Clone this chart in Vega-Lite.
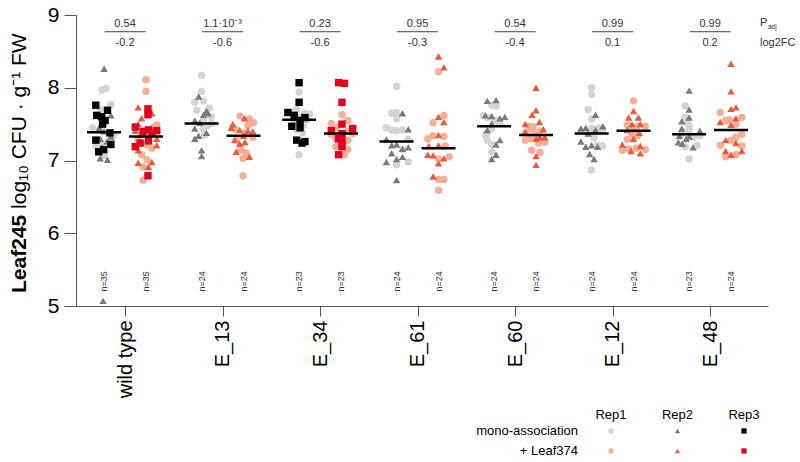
{
  "$schema": "https://vega.github.io/schema/vega-lite/v6.json",
  "width": 692,
  "height": 291,
  "autosize": {"type": "none"},
  "padding": {"left": 76, "top": 15, "right": 32, "bottom": 156},
  "background": "white",
  "config": {"view": {"stroke": null}, "font": "Liberation Sans", "text": {"font": "Liberation Sans"}},
  "resolve": {"axis": {"x": "independent", "y": "independent"}},
  "datasets": {
    "pts": [
      {"g":"wild type","c":"mono","r":"Rep1","v":7.97,"j":-0.02},{"g":"wild type","c":"mono","r":"Rep1","v":7.99,"j":0.02},{"g":"wild type","c":"mono","r":"Rep1","v":7.77,"j":0.07},{"g":"wild type","c":"mono","r":"Rep1","v":7.70,"j":-0.04},{"g":"wild type","c":"mono","r":"Rep1","v":7.45,"j":-0.12},{"g":"wild type","c":"mono","r":"Rep1","v":7.42,"j":-0.04},{"g":"wild type","c":"mono","r":"Rep1","v":7.35,"j":0.1},{"g":"wild type","c":"mono","r":"Rep1","v":7.30,"j":0.07},{"g":"wild type","c":"mono","r":"Rep1","v":7.25,"j":-0.04},{"g":"wild type","c":"mono","r":"Rep1","v":7.20,"j":-0.08},{"g":"wild type","c":"mono","r":"Rep1","v":7.12,"j":0.01},{"g":"wild type","c":"mono","r":"Rep1","v":7.07,"j":0},
      {"g":"wild type","c":"mono","r":"Rep2","v":8.26,"j":0},{"g":"wild type","c":"mono","r":"Rep2","v":7.62,"j":0.07},{"g":"wild type","c":"mono","r":"Rep2","v":7.45,"j":-0.05},{"g":"wild type","c":"mono","r":"Rep2","v":7.40,"j":0},{"g":"wild type","c":"mono","r":"Rep2","v":7.33,"j":0.07},{"g":"wild type","c":"mono","r":"Rep2","v":7.30,"j":-0.04},{"g":"wild type","c":"mono","r":"Rep2","v":7.26,"j":0.03},{"g":"wild type","c":"mono","r":"Rep2","v":7.22,"j":0.055},{"g":"wild type","c":"mono","r":"Rep2","v":7.18,"j":-0.02},{"g":"wild type","c":"mono","r":"Rep2","v":7.03,"j":-0.04},{"g":"wild type","c":"mono","r":"Rep2","v":7.01,"j":0.035},{"g":"wild type","c":"mono","r":"Rep2","v":5.07,"j":-0.01},
      {"g":"wild type","c":"mono","r":"Rep3","v":7.76,"j":-0.085},{"g":"wild type","c":"mono","r":"Rep3","v":7.69,"j":0.035},{"g":"wild type","c":"mono","r":"Rep3","v":7.62,"j":-0.075},{"g":"wild type","c":"mono","r":"Rep3","v":7.60,"j":-0.025},{"g":"wild type","c":"mono","r":"Rep3","v":7.55,"j":0.01},{"g":"wild type","c":"mono","r":"Rep3","v":7.50,"j":-0.015},{"g":"wild type","c":"mono","r":"Rep3","v":7.38,"j":0.06},{"g":"wild type","c":"mono","r":"Rep3","v":7.28,"j":-0.085},{"g":"wild type","c":"mono","r":"Rep3","v":7.22,"j":0.07},{"g":"wild type","c":"mono","r":"Rep3","v":7.15,"j":-0.005},{"g":"wild type","c":"mono","r":"Rep3","v":7.12,"j":-0.055},
      {"g":"wild type","c":"leaf","r":"Rep1","v":8.11,"j":0},{"g":"wild type","c":"leaf","r":"Rep1","v":7.95,"j":0},{"g":"wild type","c":"leaf","r":"Rep1","v":7.49,"j":0.11},{"g":"wild type","c":"leaf","r":"Rep1","v":7.45,"j":0.07},{"g":"wild type","c":"leaf","r":"Rep1","v":7.36,"j":-0.045},{"g":"wild type","c":"leaf","r":"Rep1","v":7.29,"j":-0.08},{"g":"wild type","c":"leaf","r":"Rep1","v":7.22,"j":0.01},{"g":"wild type","c":"leaf","r":"Rep1","v":7.17,"j":0.06},{"g":"wild type","c":"leaf","r":"Rep1","v":7.08,"j":-0.045},{"g":"wild type","c":"leaf","r":"Rep1","v":7.01,"j":0.01},{"g":"wild type","c":"leaf","r":"Rep1","v":6.91,"j":-0.03},{"g":"wild type","c":"leaf","r":"Rep1","v":6.73,"j":-0.03},
      {"g":"wild type","c":"leaf","r":"Rep2","v":7.73,"j":-0.08},{"g":"wild type","c":"leaf","r":"Rep2","v":7.65,"j":0.06},{"g":"wild type","c":"leaf","r":"Rep2","v":7.58,"j":-0.045},{"g":"wild type","c":"leaf","r":"Rep2","v":7.50,"j":-0.08},{"g":"wild type","c":"leaf","r":"Rep2","v":7.41,"j":-0.11},{"g":"wild type","c":"leaf","r":"Rep2","v":7.38,"j":0.06},{"g":"wild type","c":"leaf","r":"Rep2","v":7.30,"j":0.11},{"g":"wild type","c":"leaf","r":"Rep2","v":7.21,"j":0.11},{"g":"wild type","c":"leaf","r":"Rep2","v":7.14,"j":-0.08},{"g":"wild type","c":"leaf","r":"Rep2","v":6.98,"j":0.06},{"g":"wild type","c":"leaf","r":"Rep2","v":6.97,"j":-0.08},{"g":"wild type","c":"leaf","r":"Rep2","v":6.91,"j":0.025},
      {"g":"wild type","c":"leaf","r":"Rep3","v":7.71,"j":0.02},{"g":"wild type","c":"leaf","r":"Rep3","v":7.63,"j":0.02},{"g":"wild type","c":"leaf","r":"Rep3","v":7.46,"j":-0.11},{"g":"wild type","c":"leaf","r":"Rep3","v":7.42,"j":0.025},{"g":"wild type","c":"leaf","r":"Rep3","v":7.41,"j":0.11},{"g":"wild type","c":"leaf","r":"Rep3","v":7.40,"j":-0.03},{"g":"wild type","c":"leaf","r":"Rep3","v":7.38,"j":0.06},{"g":"wild type","c":"leaf","r":"Rep3","v":7.27,"j":0.025},{"g":"wild type","c":"leaf","r":"Rep3","v":7.24,"j":-0.06},{"g":"wild type","c":"leaf","r":"Rep3","v":7.19,"j":-0.11},{"g":"wild type","c":"leaf","r":"Rep3","v":6.79,"j":0.02},
      {"g":"E_13","c":"mono","r":"Rep1","v":8.17,"j":0},{"g":"E_13","c":"mono","r":"Rep1","v":7.95,"j":0},{"g":"E_13","c":"mono","r":"Rep1","v":7.82,"j":0.02},{"g":"E_13","c":"mono","r":"Rep1","v":7.80,"j":-0.07},{"g":"E_13","c":"mono","r":"Rep1","v":7.72,"j":0.08},{"g":"E_13","c":"mono","r":"Rep1","v":7.69,"j":-0.05},{"g":"E_13","c":"mono","r":"Rep1","v":7.60,"j":0.1},{"g":"E_13","c":"mono","r":"Rep1","v":7.55,"j":0.02},{"g":"E_13","c":"mono","r":"Rep1","v":7.51,"j":0.1},{"g":"E_13","c":"mono","r":"Rep1","v":7.48,"j":0.065},{"g":"E_13","c":"mono","r":"Rep1","v":7.43,"j":0.015},{"g":"E_13","c":"mono","r":"Rep1","v":7.35,"j":0.03},
      {"g":"E_13","c":"mono","r":"Rep2","v":7.88,"j":-0.03},{"g":"E_13","c":"mono","r":"Rep2","v":7.68,"j":0.05},{"g":"E_13","c":"mono","r":"Rep2","v":7.65,"j":0.065},{"g":"E_13","c":"mono","r":"Rep2","v":7.63,"j":0.02},{"g":"E_13","c":"mono","r":"Rep2","v":7.55,"j":-0.07},{"g":"E_13","c":"mono","r":"Rep2","v":7.52,"j":-0.02},{"g":"E_13","c":"mono","r":"Rep2","v":7.44,"j":-0.07},{"g":"E_13","c":"mono","r":"Rep2","v":7.38,"j":0.05},{"g":"E_13","c":"mono","r":"Rep2","v":7.34,"j":-0.03},{"g":"E_13","c":"mono","r":"Rep2","v":7.30,"j":-0.07},{"g":"E_13","c":"mono","r":"Rep2","v":7.14,"j":0},{"g":"E_13","c":"mono","r":"Rep2","v":7.06,"j":0},
      {"g":"E_13","c":"leaf","r":"Rep1","v":7.61,"j":-0.035},{"g":"E_13","c":"leaf","r":"Rep1","v":7.57,"j":0.06},{"g":"E_13","c":"leaf","r":"Rep1","v":7.52,"j":0.1},{"g":"E_13","c":"leaf","r":"Rep1","v":7.48,"j":0.045},{"g":"E_13","c":"leaf","r":"Rep1","v":7.43,"j":-0.09},{"g":"E_13","c":"leaf","r":"Rep1","v":7.38,"j":0.01},{"g":"E_13","c":"leaf","r":"Rep1","v":7.32,"j":0.095},{"g":"E_13","c":"leaf","r":"Rep1","v":7.28,"j":-0.075},{"g":"E_13","c":"leaf","r":"Rep1","v":7.14,"j":-0.025},{"g":"E_13","c":"leaf","r":"Rep1","v":7.10,"j":0.03},{"g":"E_13","c":"leaf","r":"Rep1","v":7.03,"j":-0.005},{"g":"E_13","c":"leaf","r":"Rep1","v":6.79,"j":-0.005},
      {"g":"E_13","c":"leaf","r":"Rep2","v":7.58,"j":0.01},{"g":"E_13","c":"leaf","r":"Rep2","v":7.50,"j":-0.11},{"g":"E_13","c":"leaf","r":"Rep2","v":7.45,"j":-0.125},{"g":"E_13","c":"leaf","r":"Rep2","v":7.42,"j":-0.04},{"g":"E_13","c":"leaf","r":"Rep2","v":7.41,"j":0.045},{"g":"E_13","c":"leaf","r":"Rep2","v":7.40,"j":0.095},{"g":"E_13","c":"leaf","r":"Rep2","v":7.34,"j":0},{"g":"E_13","c":"leaf","r":"Rep2","v":7.28,"j":-0.09},{"g":"E_13","c":"leaf","r":"Rep2","v":7.25,"j":0.015},{"g":"E_13","c":"leaf","r":"Rep2","v":7.23,"j":-0.04},{"g":"E_13","c":"leaf","r":"Rep2","v":7.12,"j":-0.075},{"g":"E_13","c":"leaf","r":"Rep2","v":7.05,"j":0.06},
      {"g":"E_34","c":"mono","r":"Rep1","v":7.94,"j":0},{"g":"E_34","c":"mono","r":"Rep1","v":7.70,"j":-0.025},{"g":"E_34","c":"mono","r":"Rep1","v":7.66,"j":-0.075},{"g":"E_34","c":"mono","r":"Rep1","v":7.65,"j":0.055},{"g":"E_34","c":"mono","r":"Rep1","v":7.64,"j":0.11},{"g":"E_34","c":"mono","r":"Rep1","v":7.60,"j":-0.005},{"g":"E_34","c":"mono","r":"Rep1","v":7.56,"j":0.08},{"g":"E_34","c":"mono","r":"Rep1","v":7.52,"j":-0.05},{"g":"E_34","c":"mono","r":"Rep1","v":7.48,"j":0.045},{"g":"E_34","c":"mono","r":"Rep1","v":7.42,"j":-0.025},{"g":"E_34","c":"mono","r":"Rep1","v":7.38,"j":0.035},{"g":"E_34","c":"mono","r":"Rep1","v":7.08,"j":0},
      {"g":"E_34","c":"mono","r":"Rep3","v":8.07,"j":0},{"g":"E_34","c":"mono","r":"Rep3","v":7.80,"j":0},{"g":"E_34","c":"mono","r":"Rep3","v":7.66,"j":-0.115},{"g":"E_34","c":"mono","r":"Rep3","v":7.62,"j":-0.05},{"g":"E_34","c":"mono","r":"Rep3","v":7.59,"j":0.06},{"g":"E_34","c":"mono","r":"Rep3","v":7.55,"j":0.01},{"g":"E_34","c":"mono","r":"Rep3","v":7.47,"j":-0.075},{"g":"E_34","c":"mono","r":"Rep3","v":7.45,"j":0.01},{"g":"E_34","c":"mono","r":"Rep3","v":7.28,"j":-0.025},{"g":"E_34","c":"mono","r":"Rep3","v":7.26,"j":0.06},{"g":"E_34","c":"mono","r":"Rep3","v":7.24,"j":0.03},
      {"g":"E_34","c":"leaf","r":"Rep1","v":7.63,"j":0.01},{"g":"E_34","c":"leaf","r":"Rep1","v":7.55,"j":0.07},{"g":"E_34","c":"leaf","r":"Rep1","v":7.51,"j":-0.1},{"g":"E_34","c":"leaf","r":"Rep1","v":7.46,"j":-0.05},{"g":"E_34","c":"leaf","r":"Rep1","v":7.40,"j":0.07},{"g":"E_34","c":"leaf","r":"Rep1","v":7.37,"j":0.12},{"g":"E_34","c":"leaf","r":"Rep1","v":7.36,"j":-0.1},{"g":"E_34","c":"leaf","r":"Rep1","v":7.29,"j":-0.05},{"g":"E_34","c":"leaf","r":"Rep1","v":7.28,"j":0.07},{"g":"E_34","c":"leaf","r":"Rep1","v":7.19,"j":-0.05},{"g":"E_34","c":"leaf","r":"Rep1","v":7.15,"j":0.07},{"g":"E_34","c":"leaf","r":"Rep1","v":7.08,"j":0.035},
      {"g":"E_34","c":"leaf","r":"Rep3","v":8.07,"j":-0.025},{"g":"E_34","c":"leaf","r":"Rep3","v":8.06,"j":0.035},{"g":"E_34","c":"leaf","r":"Rep3","v":7.80,"j":0.01},{"g":"E_34","c":"leaf","r":"Rep3","v":7.50,"j":0.01},{"g":"E_34","c":"leaf","r":"Rep3","v":7.44,"j":0.12},{"g":"E_34","c":"leaf","r":"Rep3","v":7.41,"j":-0.1},{"g":"E_34","c":"leaf","r":"Rep3","v":7.37,"j":0.01},{"g":"E_34","c":"leaf","r":"Rep3","v":7.30,"j":-0.025},{"g":"E_34","c":"leaf","r":"Rep3","v":7.27,"j":0.01},{"g":"E_34","c":"leaf","r":"Rep3","v":7.19,"j":0.01},{"g":"E_34","c":"leaf","r":"Rep3","v":7.08,"j":-0.025},
      {"g":"E_61","c":"mono","r":"Rep1","v":8.02,"j":0},{"g":"E_61","c":"mono","r":"Rep1","v":7.66,"j":0},{"g":"E_61","c":"mono","r":"Rep1","v":7.65,"j":-0.05},{"g":"E_61","c":"mono","r":"Rep1","v":7.57,"j":0},{"g":"E_61","c":"mono","r":"Rep1","v":7.45,"j":-0.105},{"g":"E_61","c":"mono","r":"Rep1","v":7.42,"j":-0.05},{"g":"E_61","c":"mono","r":"Rep1","v":7.41,"j":0.0},{"g":"E_61","c":"mono","r":"Rep1","v":7.42,"j":0.06},{"g":"E_61","c":"mono","r":"Rep1","v":7.29,"j":0.12},{"g":"E_61","c":"mono","r":"Rep1","v":7.15,"j":0.065},{"g":"E_61","c":"mono","r":"Rep1","v":6.98,"j":0.12},{"g":"E_61","c":"mono","r":"Rep1","v":6.94,"j":0},
      {"g":"E_61","c":"mono","r":"Rep2","v":7.65,"j":0.06},{"g":"E_61","c":"mono","r":"Rep2","v":7.43,"j":0.12},{"g":"E_61","c":"mono","r":"Rep2","v":7.29,"j":-0.105},{"g":"E_61","c":"mono","r":"Rep2","v":7.22,"j":0},{"g":"E_61","c":"mono","r":"Rep2","v":7.21,"j":-0.05},{"g":"E_61","c":"mono","r":"Rep2","v":7.18,"j":0.12},{"g":"E_61","c":"mono","r":"Rep2","v":7.16,"j":0.06},{"g":"E_61","c":"mono","r":"Rep2","v":7.10,"j":-0.05},{"g":"E_61","c":"mono","r":"Rep2","v":7.05,"j":0.06},{"g":"E_61","c":"mono","r":"Rep2","v":7.02,"j":0},{"g":"E_61","c":"mono","r":"Rep2","v":6.98,"j":-0.105},{"g":"E_61","c":"mono","r":"Rep2","v":6.73,"j":0},
      {"g":"E_61","c":"leaf","r":"Rep1","v":8.22,"j":0},{"g":"E_61","c":"leaf","r":"Rep1","v":7.62,"j":0.055},{"g":"E_61","c":"leaf","r":"Rep1","v":7.52,"j":-0.055},{"g":"E_61","c":"leaf","r":"Rep1","v":7.34,"j":-0.055},{"g":"E_61","c":"leaf","r":"Rep1","v":7.33,"j":0.055},{"g":"E_61","c":"leaf","r":"Rep1","v":7.30,"j":-0.11},{"g":"E_61","c":"leaf","r":"Rep1","v":7.20,"j":0.07},{"g":"E_61","c":"leaf","r":"Rep1","v":7.05,"j":0.11},{"g":"E_61","c":"leaf","r":"Rep1","v":7.02,"j":0},{"g":"E_61","c":"leaf","r":"Rep1","v":6.74,"j":0.055},{"g":"E_61","c":"leaf","r":"Rep1","v":6.74,"j":0},{"g":"E_61","c":"leaf","r":"Rep1","v":6.59,"j":0},
      {"g":"E_61","c":"leaf","r":"Rep2","v":8.43,"j":0},{"g":"E_61","c":"leaf","r":"Rep2","v":8.28,"j":0.055},{"g":"E_61","c":"leaf","r":"Rep2","v":7.60,"j":0},{"g":"E_61","c":"leaf","r":"Rep2","v":7.53,"j":0.055},{"g":"E_61","c":"leaf","r":"Rep2","v":7.35,"j":0},{"g":"E_61","c":"leaf","r":"Rep2","v":7.21,"j":0},{"g":"E_61","c":"leaf","r":"Rep2","v":7.20,"j":-0.1},{"g":"E_61","c":"leaf","r":"Rep2","v":7.08,"j":-0.11},{"g":"E_61","c":"leaf","r":"Rep2","v":7.07,"j":-0.055},{"g":"E_61","c":"leaf","r":"Rep2","v":7.03,"j":0.055},{"g":"E_61","c":"leaf","r":"Rep2","v":6.96,"j":0},{"g":"E_61","c":"leaf","r":"Rep2","v":6.78,"j":-0.055},
      {"g":"E_60","c":"mono","r":"Rep1","v":7.76,"j":-0.025},{"g":"E_60","c":"mono","r":"Rep1","v":7.75,"j":0.02},{"g":"E_60","c":"mono","r":"Rep1","v":7.62,"j":-0.11},{"g":"E_60","c":"mono","r":"Rep1","v":7.59,"j":-0.07},{"g":"E_60","c":"mono","r":"Rep1","v":7.55,"j":0.02},{"g":"E_60","c":"mono","r":"Rep1","v":7.51,"j":0.06},{"g":"E_60","c":"mono","r":"Rep1","v":7.44,"j":-0.025},{"g":"E_60","c":"mono","r":"Rep1","v":7.38,"j":-0.07},{"g":"E_60","c":"mono","r":"Rep1","v":7.35,"j":-0.09},{"g":"E_60","c":"mono","r":"Rep1","v":7.28,"j":-0.07},{"g":"E_60","c":"mono","r":"Rep1","v":7.22,"j":-0.025},{"g":"E_60","c":"mono","r":"Rep1","v":7.12,"j":-0.025},
      {"g":"E_60","c":"mono","r":"Rep2","v":7.83,"j":0.02},{"g":"E_60","c":"mono","r":"Rep2","v":7.82,"j":-0.07},{"g":"E_60","c":"mono","r":"Rep2","v":7.62,"j":-0.09},{"g":"E_60","c":"mono","r":"Rep2","v":7.61,"j":-0.025},{"g":"E_60","c":"mono","r":"Rep2","v":7.60,"j":0.11},{"g":"E_60","c":"mono","r":"Rep2","v":7.58,"j":0.06},{"g":"E_60","c":"mono","r":"Rep2","v":7.51,"j":-0.025},{"g":"E_60","c":"mono","r":"Rep2","v":7.42,"j":-0.07},{"g":"E_60","c":"mono","r":"Rep2","v":7.28,"j":0.06},{"g":"E_60","c":"mono","r":"Rep2","v":7.22,"j":0.02},{"g":"E_60","c":"mono","r":"Rep2","v":7.08,"j":0.02},{"g":"E_60","c":"mono","r":"Rep2","v":7.02,"j":-0.025},
      {"g":"E_60","c":"leaf","r":"Rep1","v":7.47,"j":-0.08},{"g":"E_60","c":"leaf","r":"Rep1","v":7.46,"j":-0.03},{"g":"E_60","c":"leaf","r":"Rep1","v":7.43,"j":-0.045},{"g":"E_60","c":"leaf","r":"Rep1","v":7.40,"j":0.04},{"g":"E_60","c":"leaf","r":"Rep1","v":7.38,"j":-0.11},{"g":"E_60","c":"leaf","r":"Rep1","v":7.35,"j":0},{"g":"E_60","c":"leaf","r":"Rep1","v":7.30,"j":-0.06},{"g":"E_60","c":"leaf","r":"Rep1","v":7.28,"j":-0.11},{"g":"E_60","c":"leaf","r":"Rep1","v":7.25,"j":0.09},{"g":"E_60","c":"leaf","r":"Rep1","v":7.24,"j":0.025},{"g":"E_60","c":"leaf","r":"Rep1","v":7.14,"j":-0.045},{"g":"E_60","c":"leaf","r":"Rep1","v":7.11,"j":0.04},
      {"g":"E_60","c":"leaf","r":"Rep2","v":8.00,"j":0},{"g":"E_60","c":"leaf","r":"Rep2","v":7.69,"j":0},{"g":"E_60","c":"leaf","r":"Rep2","v":7.63,"j":-0.04},{"g":"E_60","c":"leaf","r":"Rep2","v":7.53,"j":0.035},{"g":"E_60","c":"leaf","r":"Rep2","v":7.50,"j":-0.11},{"g":"E_60","c":"leaf","r":"Rep2","v":7.43,"j":0.075},{"g":"E_60","c":"leaf","r":"Rep2","v":7.39,"j":-0.11},{"g":"E_60","c":"leaf","r":"Rep2","v":7.32,"j":0.04},{"g":"E_60","c":"leaf","r":"Rep2","v":7.32,"j":0.09},{"g":"E_60","c":"leaf","r":"Rep2","v":7.30,"j":0.0},{"g":"E_60","c":"leaf","r":"Rep2","v":7.06,"j":0},{"g":"E_60","c":"leaf","r":"Rep2","v":6.94,"j":0},
      {"g":"E_12","c":"mono","r":"Rep1","v":8.00,"j":0},{"g":"E_12","c":"mono","r":"Rep1","v":7.91,"j":0},{"g":"E_12","c":"mono","r":"Rep1","v":7.70,"j":-0.035},{"g":"E_12","c":"mono","r":"Rep1","v":7.57,"j":0},{"g":"E_12","c":"mono","r":"Rep1","v":7.45,"j":0.075},{"g":"E_12","c":"mono","r":"Rep1","v":7.44,"j":0},{"g":"E_12","c":"mono","r":"Rep1","v":7.42,"j":0.11},{"g":"E_12","c":"mono","r":"Rep1","v":7.37,"j":-0.035},{"g":"E_12","c":"mono","r":"Rep1","v":7.31,"j":0.025},{"g":"E_12","c":"mono","r":"Rep1","v":7.21,"j":0.06},{"g":"E_12","c":"mono","r":"Rep1","v":7.20,"j":0.11},{"g":"E_12","c":"mono","r":"Rep1","v":6.87,"j":0},
      {"g":"E_12","c":"mono","r":"Rep2","v":7.63,"j":0.04},{"g":"E_12","c":"mono","r":"Rep2","v":7.47,"j":0.115},{"g":"E_12","c":"mono","r":"Rep2","v":7.45,"j":-0.06},{"g":"E_12","c":"mono","r":"Rep2","v":7.44,"j":-0.11},{"g":"E_12","c":"mono","r":"Rep2","v":7.42,"j":0.04},{"g":"E_12","c":"mono","r":"Rep2","v":7.37,"j":-0.035},{"g":"E_12","c":"mono","r":"Rep2","v":7.26,"j":-0.11},{"g":"E_12","c":"mono","r":"Rep2","v":7.21,"j":0},{"g":"E_12","c":"mono","r":"Rep2","v":7.19,"j":-0.06},{"g":"E_12","c":"mono","r":"Rep2","v":7.19,"j":0.06},{"g":"E_12","c":"mono","r":"Rep2","v":7.09,"j":-0.02},{"g":"E_12","c":"mono","r":"Rep2","v":7.02,"j":0.025},
      {"g":"E_12","c":"leaf","r":"Rep1","v":7.82,"j":0},{"g":"E_12","c":"leaf","r":"Rep1","v":7.49,"j":-0.065},{"g":"E_12","c":"leaf","r":"Rep1","v":7.47,"j":0.12},{"g":"E_12","c":"leaf","r":"Rep1","v":7.45,"j":-0.015},{"g":"E_12","c":"leaf","r":"Rep1","v":7.47,"j":0.04},{"g":"E_12","c":"leaf","r":"Rep1","v":7.36,"j":-0.015},{"g":"E_12","c":"leaf","r":"Rep1","v":7.34,"j":0.04},{"g":"E_12","c":"leaf","r":"Rep1","v":7.29,"j":-0.065},{"g":"E_12","c":"leaf","r":"Rep1","v":7.17,"j":0.03},{"g":"E_12","c":"leaf","r":"Rep1","v":7.16,"j":-0.05},{"g":"E_12","c":"leaf","r":"Rep1","v":7.15,"j":0.12},{"g":"E_12","c":"leaf","r":"Rep1","v":7.14,"j":-0.115},
      {"g":"E_12","c":"leaf","r":"Rep2","v":7.68,"j":0},{"g":"E_12","c":"leaf","r":"Rep2","v":7.59,"j":-0.05},{"g":"E_12","c":"leaf","r":"Rep2","v":7.59,"j":0.05},{"g":"E_12","c":"leaf","r":"Rep2","v":7.50,"j":-0.015},{"g":"E_12","c":"leaf","r":"Rep2","v":7.50,"j":0.07},{"g":"E_12","c":"leaf","r":"Rep2","v":7.42,"j":-0.065},{"g":"E_12","c":"leaf","r":"Rep2","v":7.38,"j":0.06},{"g":"E_12","c":"leaf","r":"Rep2","v":7.30,"j":0},{"g":"E_12","c":"leaf","r":"Rep2","v":7.22,"j":-0.115},{"g":"E_12","c":"leaf","r":"Rep2","v":7.20,"j":0.07},{"g":"E_12","c":"leaf","r":"Rep2","v":7.13,"j":-0.025},{"g":"E_12","c":"leaf","r":"Rep2","v":7.10,"j":0.07},
      {"g":"E_48","c":"mono","r":"Rep1","v":7.75,"j":-0.04},{"g":"E_48","c":"mono","r":"Rep1","v":7.60,"j":-0.04},{"g":"E_48","c":"mono","r":"Rep1","v":7.52,"j":-0.025},{"g":"E_48","c":"mono","r":"Rep1","v":7.48,"j":0},{"g":"E_48","c":"mono","r":"Rep1","v":7.42,"j":0.0},{"g":"E_48","c":"mono","r":"Rep1","v":7.37,"j":-0.075},{"g":"E_48","c":"mono","r":"Rep1","v":7.34,"j":0.11},{"g":"E_48","c":"mono","r":"Rep1","v":7.32,"j":0.045},{"g":"E_48","c":"mono","r":"Rep1","v":7.21,"j":0.08},{"g":"E_48","c":"mono","r":"Rep1","v":7.19,"j":-0.04},{"g":"E_48","c":"mono","r":"Rep1","v":7.02,"j":0},
      {"g":"E_48","c":"mono","r":"Rep2","v":7.96,"j":0},{"g":"E_48","c":"mono","r":"Rep2","v":7.70,"j":0},{"g":"E_48","c":"mono","r":"Rep2","v":7.59,"j":0},{"g":"E_48","c":"mono","r":"Rep2","v":7.54,"j":-0.075},{"g":"E_48","c":"mono","r":"Rep2","v":7.44,"j":-0.075},{"g":"E_48","c":"mono","r":"Rep2","v":7.41,"j":0.11},{"g":"E_48","c":"mono","r":"Rep2","v":7.34,"j":-0.1},{"g":"E_48","c":"mono","r":"Rep2","v":7.33,"j":0},{"g":"E_48","c":"mono","r":"Rep2","v":7.30,"j":-0.03},{"g":"E_48","c":"mono","r":"Rep2","v":7.25,"j":-0.11},{"g":"E_48","c":"mono","r":"Rep2","v":7.23,"j":-0.07},{"g":"E_48","c":"mono","r":"Rep2","v":7.18,"j":0.04},
      {"g":"E_48","c":"leaf","r":"Rep1","v":7.66,"j":-0.11},{"g":"E_48","c":"leaf","r":"Rep1","v":7.59,"j":0.11},{"g":"E_48","c":"leaf","r":"Rep1","v":7.56,"j":-0.02},{"g":"E_48","c":"leaf","r":"Rep1","v":7.55,"j":-0.055},{"g":"E_48","c":"leaf","r":"Rep1","v":7.50,"j":0.05},{"g":"E_48","c":"leaf","r":"Rep1","v":7.36,"j":0.11},{"g":"E_48","c":"leaf","r":"Rep1","v":7.32,"j":0.05},{"g":"E_48","c":"leaf","r":"Rep1","v":7.28,"j":0},{"g":"E_48","c":"leaf","r":"Rep1","v":7.21,"j":-0.11},{"g":"E_48","c":"leaf","r":"Rep1","v":7.20,"j":0.11},{"g":"E_48","c":"leaf","r":"Rep1","v":7.08,"j":0.05},{"g":"E_48","c":"leaf","r":"Rep1","v":7.05,"j":-0.055},
      {"g":"E_48","c":"leaf","r":"Rep2","v":8.33,"j":0},{"g":"E_48","c":"leaf","r":"Rep2","v":7.95,"j":0},{"g":"E_48","c":"leaf","r":"Rep2","v":7.73,"j":0.05},{"g":"E_48","c":"leaf","r":"Rep2","v":7.71,"j":0},{"g":"E_48","c":"leaf","r":"Rep2","v":7.58,"j":0.05},{"g":"E_48","c":"leaf","r":"Rep2","v":7.53,"j":-0.11},{"g":"E_48","c":"leaf","r":"Rep2","v":7.49,"j":0},{"g":"E_48","c":"leaf","r":"Rep2","v":7.28,"j":-0.055},{"g":"E_48","c":"leaf","r":"Rep2","v":7.24,"j":0.05},{"g":"E_48","c":"leaf","r":"Rep2","v":7.13,"j":-0.055},{"g":"E_48","c":"leaf","r":"Rep2","v":7.13,"j":0.11},{"g":"E_48","c":"leaf","r":"Rep2","v":7.08,"j":0}
    ],
    "means": [
      {"g":"wild type","c":"mono","m":7.39},{"g":"wild type","c":"leaf","m":7.33},
      {"g":"E_13","c":"mono","m":7.51},{"g":"E_13","c":"leaf","m":7.34},
      {"g":"E_34","c":"mono","m":7.56},{"g":"E_34","c":"leaf","m":7.37},
      {"g":"E_61","c":"mono","m":7.26},{"g":"E_61","c":"leaf","m":7.17},
      {"g":"E_60","c":"mono","m":7.47},{"g":"E_60","c":"leaf","m":7.35},
      {"g":"E_12","c":"mono","m":7.37},{"g":"E_12","c":"leaf","m":7.41},
      {"g":"E_48","c":"mono","m":7.36},{"g":"E_48","c":"leaf","m":7.42}
    ],
    "ann": [
      {"g":"wild type","p":"0.54","fc":"-0.2"},
      {"g":"E_13","p":"1.1·10⁻³","fc":"-0.6"},
      {"g":"E_34","p":"0.23","fc":"-0.6"},
      {"g":"E_61","p":"0.95","fc":"-0.3"},
      {"g":"E_60","p":"0.54","fc":"-0.4"},
      {"g":"E_12","p":"0.99","fc":"0.1"},
      {"g":"E_48","p":"0.99","fc":"0.2"}
    ],
    "nlab": [
      {"g":"wild type","c":"mono","n":"n=35"},{"g":"wild type","c":"leaf","n":"n=35"},
      {"g":"E_13","c":"mono","n":"n=24"},{"g":"E_13","c":"leaf","n":"n=24"},
      {"g":"E_34","c":"mono","n":"n=23"},{"g":"E_34","c":"leaf","n":"n=23"},
      {"g":"E_61","c":"mono","n":"n=24"},{"g":"E_61","c":"leaf","n":"n=24"},
      {"g":"E_60","c":"mono","n":"n=24"},{"g":"E_60","c":"leaf","n":"n=24"},
      {"g":"E_12","c":"mono","n":"n=24"},{"g":"E_12","c":"leaf","n":"n=24"},
      {"g":"E_48","c":"mono","n":"n=23"},{"g":"E_48","c":"leaf","n":"n=24"}
    ],
    "leg": [
      {"c":"mono","r":"Rep1"},{"c":"mono","r":"Rep2"},{"c":"mono","r":"Rep3"},
      {"c":"leaf","r":"Rep1"},{"c":"leaf","r":"Rep2"},{"c":"leaf","r":"Rep3"}
    ],
    "legRows": [{"c":"mono","label":"mono-association"},{"c":"leaf","label":"+ Leaf374"}],
    "legHead": [{"r":"Rep1"},{"r":"Rep2"},{"r":"Rep3"}]
  },
  "layer": [
    {
      "data": {"name": "pts"},
      "transform": [
        {"calculate": "indexof(['wild type','E_13','E_34','E_61','E_60','E_12','E_48'], datum.g) + 1 + (datum.c === 'mono' ? -0.215 : 0.215) + datum.j", "as": "xp"},
        {"calculate": "datum.c + '-' + datum.r", "as": "key"}
      ],
      "mark": {"type": "point", "filled": true, "opacity": 1, "strokeWidth": 0, "size": 55},
      "encoding": {
        "x": {"field": "xp", "type": "quantitative",
              "scale": {"domain": [0.497, 7.594], "nice": false, "zero": false},
              "axis": {"values": [1,2,3,4,5,6,7], "labelExpr": "['','wild type','E_13','E_34','E_61','E_60','E_12','E_48'][datum.value]",
                       "labelAngle": -90, "labelFontSize": 20, "labelColor": "black", "labelFont": "Liberation Sans",
                       "tickSize": 10, "tickColor": "#555", "domainColor": "#555", "grid": false, "title": null, "labelPadding": 4}},
        "y": {"field": "v", "type": "quantitative",
              "scale": {"domain": [5, 9], "nice": false, "zero": false},
              "axis": {"values": [5,6,7,8,9], "labelFontSize": 21, "labelColor": "black", "labelFont": "Liberation Sans",
                       "tickSize": 12, "tickColor": "#555", "domainColor": "#555", "grid": false, "labelPadding": 5,
                       "title": null}},
        "color": {"field": "key", "type": "nominal", "legend": null,
                  "scale": {"domain": ["mono-Rep1","mono-Rep2","mono-Rep3","leaf-Rep1","leaf-Rep2","leaf-Rep3"],
                            "range": ["#d4d4d4","#7a7a7a","#000000","#f6ae94","#ec5a3b","#e2001a"]}},
        "shape": {"field": "r", "type": "nominal", "legend": null,
                  "scale": {"domain": ["Rep1","Rep2","Rep3"], "range": ["circle","triangle-up","square"]}}
      }
    },
    {
      "data": {"values": [{"t": "Leaf245"}]},
      "mark": {"type": "text", "fontSize": 21, "fontWeight": "bold", "color": "black", "angle": -90, "align": "left", "baseline": "middle"},
      "encoding": {"x": {"datum": -0.075, "axis": null}, "y": {"datum": 5.179, "axis": null}, "text": {"field": "t"}}
    },
    {
      "data": {"values": [{"t": "log₁₀ CFU · g⁻¹ FW"}]},
      "mark": {"type": "text", "fontSize": 21, "fontWeight": "normal", "color": "black", "angle": -90, "align": "left", "baseline": "middle"},
      "encoding": {"x": {"datum": -0.075, "axis": null}, "y": {"datum": 6.334, "axis": null}, "text": {"field": "t"}}
    },
    {
      "data": {"name": "means"},
      "transform": [
        {"calculate": "indexof(['wild type','E_13','E_34','E_61','E_60','E_12','E_48'], datum.g) + 1 + (datum.c === 'mono' ? -0.215 : 0.215)", "as": "xc"}
      ],
      "mark": {"type": "tick", "orient": "horizontal", "size": 34, "thickness": 2.5, "color": "black", "opacity": 1},
      "encoding": {
        "x": {"field": "xc", "type": "quantitative", "axis": null},
        "y": {"field": "m", "type": "quantitative", "axis": null}
      }
    },
    {
      "data": {"name": "ann"},
      "transform": [
        {"calculate": "indexof(['wild type','E_13','E_34','E_61','E_60','E_12','E_48'], datum.g) + 1", "as": "gi"},
        {"calculate": "datum.gi - 0.21", "as": "x1"},
        {"calculate": "datum.gi + 0.21", "as": "x2"}
      ],
      "layer": [
        {
          "mark": {"type": "text", "fontSize": 11, "color": "#333", "baseline": "middle"},
          "encoding": {"x": {"field": "gi", "type": "quantitative", "axis": null}, "y": {"datum": 8.876, "axis": null}, "text": {"field": "p"}}
        },
        {
          "mark": {"type": "rule", "color": "#444", "strokeWidth": 1},
          "encoding": {"x": {"field": "x1", "type": "quantitative", "axis": null}, "x2": {"field": "x2"}, "y": {"datum": 8.77, "axis": null}}
        },
        {
          "mark": {"type": "text", "fontSize": 11, "color": "#333", "baseline": "middle"},
          "encoding": {"x": {"field": "gi", "type": "quantitative", "axis": null}, "y": {"datum": 8.61, "axis": null}, "text": {"field": "fc"}}
        }
      ]
    },
    {
      "data": {"values": [{"t": "P"}]},
      "mark": {"type": "text", "fontSize": 11, "color": "#333", "align": "left", "baseline": "middle"},
      "encoding": {"x": {"datum": 7.512, "axis": null}, "y": {"datum": 8.89, "axis": null}, "text": {"field": "t"}}
    },
    {
      "data": {"values": [{"t": "adj"}]},
      "mark": {"type": "text", "fontSize": 6.5, "color": "#333", "align": "left", "baseline": "middle", "dx": 8, "dy": 4},
      "encoding": {"x": {"datum": 7.512, "axis": null}, "y": {"datum": 8.89, "axis": null}, "text": {"field": "t"}}
    },
    {
      "data": {"values": [{"t": "log2FC"}]},
      "mark": {"type": "text", "fontSize": 11, "color": "#333", "align": "left", "baseline": "middle"},
      "encoding": {"x": {"datum": 7.512, "axis": null}, "y": {"datum": 8.61, "axis": null}, "text": {"field": "t"}}
    },
    {
      "data": {"name": "nlab"},
      "transform": [
        {"calculate": "indexof(['wild type','E_13','E_34','E_61','E_60','E_12','E_48'], datum.g) + 1 + (datum.c === 'mono' ? -0.215 : 0.215)", "as": "xc"}
      ],
      "mark": {"type": "text", "fontSize": 9, "color": "#333", "angle": -90, "align": "center", "baseline": "middle"},
      "encoding": {"x": {"field": "xc", "type": "quantitative", "axis": null}, "y": {"datum": 5.34, "axis": null}, "text": {"field": "n"}}
    },
    {
      "data": {"name": "legHead"},
      "transform": [
        {"calculate": "5.984 + 0.682 * indexof(['Rep1','Rep2','Rep3'], datum.r)", "as": "lx"}
      ],
      "mark": {"type": "text", "fontSize": 13, "color": "black", "align": "center", "baseline": "middle"},
      "encoding": {"x": {"field": "lx", "type": "quantitative", "axis": null}, "y": {"datum": 3.5, "axis": null}, "text": {"field": "r"}}
    },
    {
      "data": {"name": "legRows"},
      "transform": [
        {"calculate": "datum.c === 'mono' ? 3.282 : 3.007", "as": "ly"}
      ],
      "mark": {"type": "text", "fontSize": 13, "color": "black", "align": "right", "baseline": "middle"},
      "encoding": {"x": {"datum": 5.646, "axis": null}, "y": {"field": "ly", "type": "quantitative", "axis": null}, "text": {"field": "label"}}
    },
    {
      "data": {"name": "leg"},
      "transform": [
        {"calculate": "5.984 + 0.682 * indexof(['Rep1','Rep2','Rep3'], datum.r)", "as": "lx"},
        {"calculate": "datum.c === 'mono' ? 3.282 : 3.007", "as": "ly"},
        {"calculate": "datum.c + '-' + datum.r", "as": "key"}
      ],
      "mark": {"type": "point", "filled": true, "opacity": 1, "strokeWidth": 0, "size": 28},
      "encoding": {
        "x": {"field": "lx", "type": "quantitative", "axis": null},
        "y": {"field": "ly", "type": "quantitative", "axis": null},
        "color": {"field": "key", "type": "nominal", "legend": null},
        "shape": {"field": "r", "type": "nominal", "legend": null}
      }
    }
  ]
}
